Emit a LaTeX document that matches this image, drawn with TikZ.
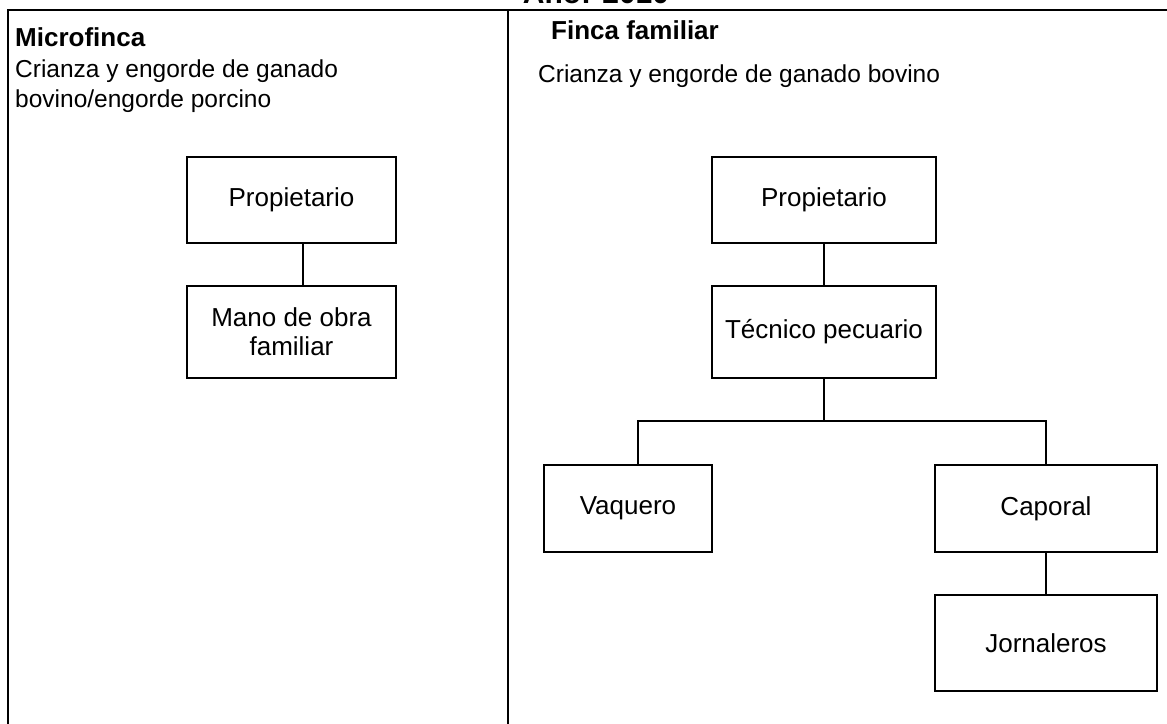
\documentclass[tikz,border=0pt]{standalone}
\usepackage{fontspec}
\setmainfont{Liberation Sans}
\begin{document}
\begin{tikzpicture}[x=1pt,y=-1pt,
  frame/.style={line width=2pt},
  box/.style={draw,line width=2pt,inner sep=0pt,align=center,font=\fontsize{26}{29}\selectfont},
  conn/.style={line width=2pt},
  head/.style={anchor=base west,inner sep=0pt,font=\bfseries\fontsize{26}{30}\selectfont},
  sub/.style={anchor=base west,inner sep=0pt,align=left,font=\fontsize{24.5}{30}\selectfont}]
\useasboundingbox (0,0) rectangle (1167,723);
\clip (0,0) rectangle (1167,723);
\fill[white] (0,0) rectangle (1167,723);
% title (cut off at top)
\node[anchor=base,inner sep=0pt,font=\bfseries\fontsize{30}{34}\selectfont] (title) at (596,3) {Año: 2010};
% frame
\coordinate (fl) at (8,10);
\coordinate (fr) at (1170,10);
\coordinate (flb) at (8,730);
\coordinate (fd) at (508,10);
\coordinate (fdb) at (508,730);
\draw[frame] (flb) -- (fl) -- (fr);
\draw[frame] (fd) -- (fdb);
% left column text
\node[head] (mf) at (15,46) {Microfinca};
\node[sub] (mfd) at (15,77) {Crianza y engorde de ganado};
\node[sub] (mfd2) at (15,107) {bovino/engorde porcino};
% right column text
\node[head] (ff) at (551,39) {Finca familiar};
\node[sub] (ffd) at (538,82) {Crianza y engorde de ganado bovino};
% left boxes
\node[box,minimum width=209pt,minimum height=86pt] (lp) at (291.5,200) {Propietario};
\node[box,minimum width=209pt,minimum height=92pt] (lm) at (291.5,332) {Mano de obra\\familiar};
\draw[conn] ([xshift=11.5pt]lp.south) -- ([xshift=11.5pt]lm.north);
% right boxes
\node[box,minimum width=224pt,minimum height=86pt] (rp) at (824,200) {Propietario};
\node[box,minimum width=224pt,minimum height=92pt] (rt) at (824,332) {Técnico pecuario};
\node[box,minimum width=168pt,minimum height=87pt] (rv) at (628,508.5) {Vaquero};
\node[box,minimum width=222pt,minimum height=87pt] (rc) at (1046,508.5) {Caporal};
\node[box,minimum width=222pt,minimum height=96pt] (rj) at (1046,643) {Jornaleros};
\draw[conn] (rp.south) -- (rt.north);
\coordinate (bus) at (824,421);
\draw[conn] (rt.south) -- (bus);
\draw[conn] ([xshift=10pt]rv.north) |- (bus) -| (rc.north);
\draw[conn] (rc.south) -- (rj.north);
\end{tikzpicture}
\end{document}
